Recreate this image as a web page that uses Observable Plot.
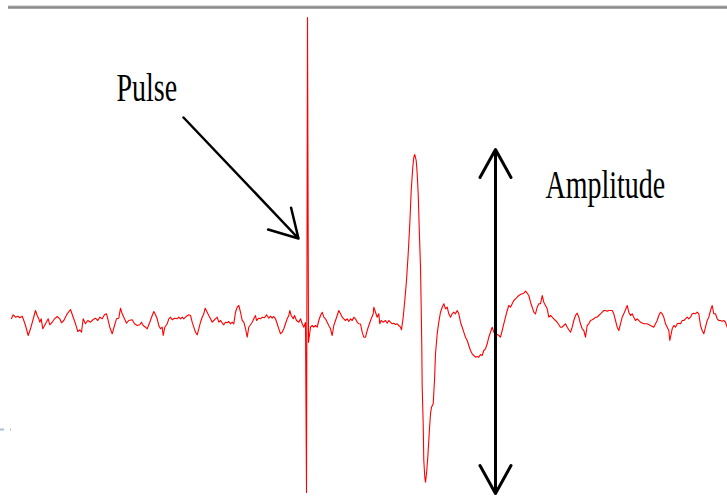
<!DOCTYPE html>
<html>
<head>
<meta charset="utf-8">
<script src="https://cdn.jsdelivr.net/npm/d3@7"></script>
<script src="https://cdn.jsdelivr.net/npm/@observablehq/plot@0.6"></script>
<style>
  html, body { margin: 0; padding: 0; background: #fff; }
  #chart { width: 727px; height: 496px; overflow: hidden; }
</style>
</head>
<body>
<div id="chart"></div>
<script>
// Recorded trace: sample time and amplitude (baseline = 0)
const time = [
  11,12.7,15,17.3,19.3,21.7,22.7,25,27.7,30,32.3,35,36.7,38.3,39.3,40.7,42.3,45,47.7,49.3,51.7,54,56.7,59.3,61,63.3,66.7,70,72.7,75,77.3,79.3,81,82.7,85,87.3,90,92.7,95,97.3,99.3,101.7,104,106,107.3,109.3,111.7,114,116,118.3,120,
  121.7,124,126,128.3,131.7,134,136.7,139.3,141,142.7,145,146.7,149.3,151.7,153.3,155,156.7,158.3,160,161.7,162.7,164.3,166.7,168.3,170,171.7,174,176.7,178.3,180,181.7,183.3,186,188.3,190,191.7,193.3,195,196.7,198.3,200,201.7,203.3,204.7,206.7,208.3,210,211.7,213.3,215,216.7,218.3,220,221.7,223.3,225,226.7,228.3,230,231.7,233.3,234,235,236.7,238.3,240,241.7,243.3,245,
  246.7,248.3,250,251.7,254,255,256,258.3,260,261.7,264,266,268.3,270,271.7,273.3,275,276.7,278.3,280,281.7,283.3,285,286.7,288.3,289.3,290.7,292.7,294,296,298.3,300,301.7,303.3,305,306,307,308,
  310,311.7,313.3,315,316.7,318.3,320,321.7,323.3,325,326.7,328.3,330,331.7,333.3,335,336.7,338.3,340,341.7,343.3,345,346.7,348.3,350,351.7,353.3,355,356.7,358.3,360,361.7,363.3,
  365,366.7,368.3,370.7,372.7,373.3,375,376.7,378.3,379.3,380.7,382.7,385,386.7,388.3,390,391.7,393.3,395,396.7,398.3,400,401,
  402.7,404.3,406,407.7,409.3,410.7,412.3,413.3,414.3,415.7,416.7,417.7,418.7,420,420.7,421.3,421.7,422.7,423.3,424.3,425,426,427.3,428.7,430,431,432.7,434,435,436.7,438.3,440,441.7,443.3,
  445,446.7,448.3,450,451.7,453.3,455,456.7,458.3,460,461.7,463.3,465,466.7,468.3,470,471.7,473.3,475,476.7,478.3,480,481.7,483.3,485,486.7,488.3,
  491.7,493.3,495,496.7,498.3,500,501.7,503.3,505,506.7,508.3,510,511.7,513.3,515,516.7,518.3,520,521.7,523.3,525,526.7,528.3,530,531.7,533.3,535,536.7,538.3,540,541.7,543.3,545,546.7,548.3,550,551.7,553.3,555,556.7,560,561.7,563.3,565,566.7,568.3,570,
  571.7,573.3,575,576.7,578.3,580,581.7,583.3,585,586.7,588.3,590,591.7,593.3,595,596.7,598.3,600,601.7,603.3,605,606.7,608.3,611.7,613.3,615,616.7,618.3,620,621.7,623.3,625,626.7,628.3,630,631.7,633.3,635,636.7,640,643.3,646.7,650,653.3,655,656.7,658.3,660,661.7,663.3,665,666.7,668.3,669.3,
  671.7,673.3,675,676.7,678.3,680,681.7,683.3,685,686.7,688.3,690,691.7,693.3,695,696.7,698.3,700,701.7,703.3,705,706.7,708.3,710,711.7,713.3,715,716.7,718.3,720,721.7,723.3,725,726.7
];
const amplitude = [
  0,3.7,1.3,2.3,0.7,2.3,-0.3,-7,-17,-10.3,-2,8,3,-0.3,-3.7,-0.3,-10.3,-5.3,-0.3,-6.3,-3.7,-0.3,2,-0.3,-4.3,-2,4.7,9,1.3,-5.3,-13,-11.3,-13.7,-0.3,-5.3,-2,-3.7,-1,0.3,-2,1.3,-0.3,3.7,4.7,-0.3,-8.7,-15.3,-7,-0.3,0.3,10.3,
  4.7,-0.3,-4.7,-2,-1.3,-5.3,-7,-6.3,-3.7,-7,-8.7,-10.3,-3.7,3,7,3.7,-0.3,-7,-10.3,-8.7,-17,-8.7,-5.3,-0.3,1.3,-1.3,0.3,-0.3,1.3,-0.3,1.3,-0.3,2.3,3.7,3,-3.7,-8.7,-13.7,-16.3,-10.3,-3.7,1.3,4.7,10.3,6.3,3,-0.3,-3.7,-2,-0.3,1.3,-3.7,-2,-4.3,-6.3,-3.7,-4.3,-3,-5.3,-3.7,-5.3,-0.3,6.3,11.3,13,6.3,-2,-3.7,-10,
  -18.7,-8.7,-6.3,-3.7,1.3,3,-2,0.3,-0.3,1.3,0.7,3.7,0.3,2.3,0.3,2,-0.3,-5.3,-10.3,-15.3,-13.7,-10.3,-5.3,-0.3,3,8,3,-0.3,3,-2,-3.7,-0.3,-5.3,-8.7,-4,-174,301,-24,
  -8.7,-7,-8.7,-7,-8.7,-2,3,6.3,1.3,-0.3,-3.7,-7,-10.3,-17,-7,-2,3,8,4.7,1.3,-0.3,-2,-0.3,-3,-0.3,-2,1.3,-0.3,-3.7,-5.3,-5.5,-13.7,-18.7,
  -18.7,-12,-7,-0.3,4.7,11.3,6.3,1.3,4.7,-5.3,-2,-3.7,-2,-4.7,-2,-3.7,-5.3,-4.7,-6,-5.3,-7,-8.7,-11.3,
  1.3,18,38,64.7,94.7,128,151.3,161.3,164,158,144.7,124.7,91.3,51.3,11.3,-28.7,-68.7,-105.3,-142,-158.7,-163.7,-155.3,-138.7,-115.3,-95.3,-88.7,-85.3,-62,-35.3,-15.3,-3.7,6.3,11.3,14.7,
  9.7,11.3,4.7,1.3,4.7,6.3,4.7,8,4.7,-3.7,-8.7,-13.7,-18.7,-22,-27,-32,-35.3,-37,-38.7,-38,-38.7,-36,-37,-32,-30.3,-25.3,-18.7,
  -8.7,-13.7,-15.3,-16,-17,-18.7,-12,-5.3,1.3,8,13,11.3,14.7,18,19.7,21.3,23,24,24.7,25.3,27.3,25.3,23,16.3,11.3,6.3,4.7,11.3,14.7,14.7,23,16.3,13,9.7,1.3,3,1.3,-0.3,-2,-3.7,-8.7,-8.7,-7,-5.3,-8.7,-11.3,-13.7,
  -8.7,-2,3,5.3,1.3,-5.3,-10.3,-12,-18.7,-7,-5.3,-2,-1.3,-0.3,1.3,1.3,3,4.7,6.3,8,8,7.3,8,8,4.7,-2,-8.7,-12,-5.3,1.3,4.7,8.7,13,6.3,3,4.7,1.3,-2,-0.3,-3.7,-5.3,-5.3,-7,-8.7,-5.3,-2,3,6.3,4.7,1.3,-5.3,-8.7,-12,-22,
  -10.3,-7,-8.7,-5.3,-4.7,-5.3,-2,-2,-0.3,1.3,-0.3,1.3,4.7,5.3,4.7,6.3,4.7,-7,-12,-15.3,-8.7,-2,1.3,8,13,4.7,4.7,-0.3,-2,-2,-2.7,-2,-3.7,-8.7
];

// Annotations (in data units: time, amplitude)
const labels = ["Pulse", "Amplitude"];
const labelTime = [116, 545];
const labelAmp = [230.8, 133.8];

// Pointer arrow to the pulse
const pulseArrowFrom = [183, 201];
const pulseArrowTo = [298, 80];

// Double-headed amplitude arrow
const ampArrowTime = 495;
const ampArrowTop = 169;
const ampArrowBottom = -175;

// Top border of the panel
const borderTime = [8, 727];
const borderAmp = 311;

const trace = time.map((t, i) => ({t, a: amplitude[i]}));
const texts = labels.map((s, i) => ({s, t: labelTime[i], a: labelAmp[i]}));
const ampMid = (ampArrowTop + ampArrowBottom) / 2;

const plot = Plot.plot({
  width: 727,
  height: 496,
  margin: 0,
  x: {domain: [0, 727], axis: null},
  y: {domain: [-178, 318], axis: null},
  style: {background: "#fff", overflow: "visible"},
  marks: [
    Plot.ruleY([borderAmp + 1.5], {x1: borderTime[0], x2: borderTime[1], stroke: "#d0d0d0", strokeWidth: 1.5}),
    Plot.ruleY([borderAmp], {x1: borderTime[0], x2: borderTime[1], stroke: "#8a8a8a", strokeWidth: 2.5}),
    Plot.ruleY([-111], {x1: 0, x2: 4, stroke: "#a9bfd6", strokeWidth: 2}),
    Plot.ruleY([-111], {x1: 10, x2: 11, stroke: "#a9bfd6", strokeWidth: 2}),
    Plot.line(trace, {x: "t", y: "a", stroke: "#ff0000", strokeWidth: 1.1, curve: "linear"}),
    Plot.arrow([0], {
      x1: () => pulseArrowFrom[0], y1: () => pulseArrowFrom[1],
      x2: () => pulseArrowTo[0], y2: () => pulseArrowTo[1],
      stroke: "#000", strokeWidth: 2.5, headLength: 19, headAngle: 60
    }),
    Plot.arrow([ampArrowTop, ampArrowBottom], {
      x1: () => ampArrowTime, y1: () => ampMid,
      x2: () => ampArrowTime, y2: d => d,
      stroke: "#000", strokeWidth: 3, headLength: 16, headAngle: 58
    }),
    Plot.text(texts, {
      x: "t", y: "a", text: "s", textAnchor: "start",
      fontFamily: "Liberation Serif", fontSize: 40, fill: "#000"
    })
  ]
});

d3.select(plot).selectAll("text").each(function() {
  const tr = this.getAttribute("transform") || "";
  this.setAttribute("transform", tr + " scale(0.7,1)");
});

document.getElementById("chart").appendChild(plot);
</script>
</body>
</html>
